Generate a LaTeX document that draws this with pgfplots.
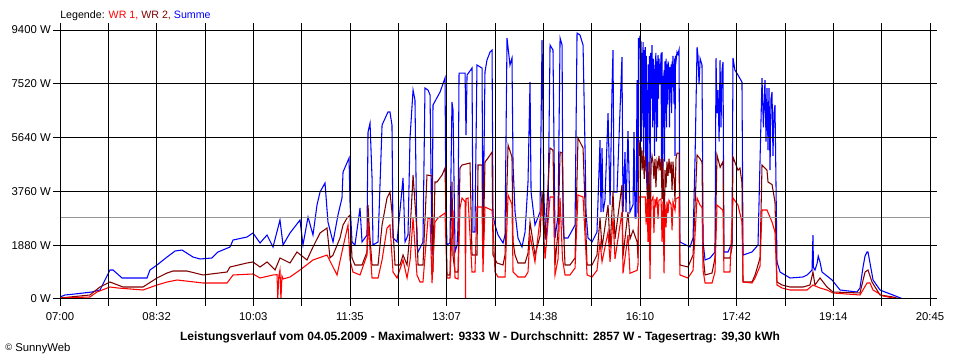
\documentclass[border=0pt]{standalone}
\usepackage{fontspec}
\setmainfont{Liberation Sans}
\usepackage{pgfplots}
\pgfplotsset{compat=1.18}
\definecolor{wrone}{RGB}{255,0,0}
\definecolor{wrtwo}{RGB}{128,0,0}
\definecolor{summe}{RGB}{0,0,255}
\definecolor{avgc}{RGB}{150,150,150}
\begin{document}
\begin{tikzpicture}
\path[use as bounding box] (0,0) rectangle (720pt,270pt);
\begin{axis}[
  at={(45pt,45.75pt)}, anchor=south west,
  scale only axis, width=652.5pt, height=201.75pt,
  xmin=420, xmax=1245, ymin=0, ymax=9400,
  axis on top,
  grid=major,
  major grid style={black, line width=0.75pt},
  axis line style={black, line width=0.75pt},
  xtick={420,465.83,511.67,557.5,603.33,649.17,695,740.83,786.67,832.5,878.33,924.17,970,1015.83,1061.67,1107.5,1153.33,1199.17,1245},
  xticklabels={07:00,,08:32,,10:03,,11:35,,13:07,,14:38,,16:10,,17:42,,19:14,,20:45},
  ytick={0,1880,3760,5640,7520,9400},
  yticklabels={0 W,1880 W,3760 W,5640 W,7520 W,9400 W},
  tick align=outside,
  major tick length=5.25pt,
  tick style={black, line width=0.75pt},
  ticklabel style={font=\fontsize{8.5}{10}\selectfont},
  every tick label/.append style={inner sep=1.5pt},
  xticklabel style={yshift=-3pt},
  clip=true,
]
\addplot[summe, line width=0.8pt] coordinates {
(420,70) (424.7,140) (434.2,175) (450.3,245) (457.9,314) (467.4,1013) (470.3,1013) (478.8,734) (502.5,734) (505.3,1013) (512.0,1188) (521.5,1467) (529.1,1677) (535.7,1712) (546.1,1467) (552.8,1398) (564.1,1433) (569.8,1642) (581.2,1817) (584.1,2061) (597.3,2166) (603.0,2306) (609.7,1957) (616.3,2236) (622.0,1817) (628.6,2760) (631.5,1887) (638.1,2306) (647.6,2760) (650.4,1887) (655.2,2865) (659.9,2236) (663.7,3284) (666.6,3739) (671.3,4053) (674.1,2690) (678.9,1992) (683.6,2935) (687.4,3529) (688.4,4437) (694.1,4927) (695.0,3389) (696.9,1992) (699.7,1887) (704.5,3180) (706.4,1992) (711.1,2236) (712.1,5835) (714.0,6149) (715.9,4228) (716.8,1887) (721.6,1992) (725.4,6080) (731.0,6534) (732.9,6534) (734.8,6080) (735.8,2131) (739.6,1992) (745.3,4228) (747.2,1992) (750.0,2236) (751.9,5625) (754.8,7302) (756.6,6953) (758.5,1887) (759.5,1642) (764.2,1992) (766.1,7372) (769.0,7302) (770.9,7128) (772.8,1537) (773.7,6778) (780.4,7233) (785.1,7722) (786.0,3040) (787.0,1887) (789.8,1957) (791.7,6883) (792.7,6604) (794.6,1642) (796.5,1887) (797.4,2481) (798.4,7896) (804.1,7896) (805.0,5730) (806.0,7827) (810.7,8071) (811.6,2341) (813.5,2341) (815.4,8176) (820.2,8071) (821.1,2131) (823.0,7931) (824.9,8351) (827.8,8630) (829.7,8700) (830.6,2935) (832.5,2586) (835.4,2236) (840.1,1957) (842.0,2236) (843.9,9119) (846.7,8176) (848.6,8421) (849.6,4682) (851.5,3040) (854.3,2131) (858.1,1817) (861.0,2341) (863.8,4088) (865.7,7582) (866.7,3739) (870.4,2586) (875.2,3040) (877.1,9050) (879.0,3459) (880.9,2061) (882.8,2935) (884.7,8875) (887.5,8700) (889.4,2131) (892.3,2935) (894.2,9119) (896.1,8875) (897.0,2586) (898.0,2131) (901.7,2131) (908.4,2586) (910.3,9294) (913.1,9224) (916.0,8875) (917.9,5206) (918.8,3040) (920.7,2131) (924.5,1992) (929.2,2341) (932.1,5555) (933.0,3040) (934.0,5276) (935.0,3040) (936.8,3459) (939.7,6499) (941.6,3284) (943.5,7400) (944.4,8700) (945.3,3739) (948.2,3739) (952.9,8455) (953.9,3040) (955.8,5136) (956.7,3040) (958.6,5870) (960.5,3040) (963.4,3300) (964.3,5835) (965.3,2830) (966.3,2830) (967.2,7652) (968.1,3000) (968.6,9119) (969.5,8900) (970.0,9200) (970.5,6000) (971.0,9000) (971.5,5500) (972.0,8600) (972.5,6500) (972.9,8980) (973.5,5000) (974.0,8700) (974.5,6000) (975.0,8800) (975.5,4500) (976.0,8500) (976.6,7000) (977.1,3040) (977.6,5835) (978.0,8200) (978.5,6500) (979.0,8500) (979.5,2830) (980.0,8600) (980.5,7000) (981.4,8875) (982.0,6000) (982.5,8400) (983.2,7800) (983.8,5000) (984.2,8000) (985.1,8600) (985.6,5500) (986.1,8300) (986.6,6000) (987.1,8526) (987.6,7000) (988.0,8400) (989.0,7500) (990.0,8600) (990.4,4500) (990.9,8630) (991.4,3500) (991.9,7800) (992.4,6000) (992.8,8000) (993.3,4800) (993.7,8300) (994.2,6500) (994.7,8400) (995.2,6000) (995.6,8200) (996.1,6800) (996.6,8300) (997.5,8000) (998.0,6000) (998.5,8100) (999.0,7200) (999.5,8200) (1000.0,6500) (1000.4,8300) (1001.0,7400) (1001.3,8500) (1002.3,6800) (1002.8,8400) (1003.2,5000) (1003.6,8500) (1004.1,8300) (1005.1,8630) (1006.0,8550) (1007.0,8700) (1007.9,1992) (1017.4,1817) (1020.3,2131) (1022.2,4927) (1024.1,8805) (1025.0,8500) (1026.0,7500) (1027.0,8400) (1028.8,8176) (1029.8,1992) (1031.7,1363) (1036.4,1433) (1041.1,1642) (1042.1,8421) (1043.0,6500) (1044.0,7302) (1045.0,5500) (1045.9,8351) (1046.8,6000) (1047.8,8000) (1048.7,8281) (1049.6,1642) (1053.4,1642) (1057.2,1957) (1058.2,8421) (1060.0,8000) (1062.9,7827) (1066.7,7582) (1067.7,1537) (1076.2,1642) (1081.9,1887) (1085.7,7722) (1087.0,6000) (1088.5,7652) (1089.5,5500) (1090.4,7372) (1091.4,5206) (1092.3,7372) (1093.3,4500) (1094.2,7000) (1095.2,7233) (1096.1,5000) (1097.0,6500) (1098.0,6778) (1099.9,1293) (1102.8,943) (1107.5,839) (1112.3,734) (1124.6,769) (1128.4,839) (1133.1,1013) (1134.0,2236) (1134.5,1100) (1135.9,1013) (1138.0,1250) (1139.0,1500) (1140.7,1293) (1142.6,943) (1152.1,664) (1159.7,314) (1175.8,245) (1178.6,384) (1181.5,1118) (1183.4,1500) (1185.3,1642) (1186.2,1642) (1188.1,1258) (1191.0,664) (1197.6,314) (1202.3,245) (1209.9,140) (1219.4,0)
};
\addplot[wrtwo, line width=0.8pt] coordinates {
(420,35) (448.4,140) (457.9,419) (467.4,594) (479.7,419) (498.7,419) (512.0,734) (521.5,908) (527.2,978) (540.4,978) (555.6,839) (578.4,943) (581.2,1118) (597.3,1258) (603.0,1293) (609.7,1118) (616.3,1293) (623.9,1013) (628.6,1433) (638.1,1258) (644.7,1642) (654.2,1363) (659.9,1817) (666.6,2306) (673.2,2481) (676.0,1433) (678.9,1537) (685.5,2131) (688.4,2586) (692.2,2830) (695.0,2935) (696.9,1433) (699.7,1188) (706.4,1188) (711.1,1642) (712.1,3284) (713.5,2341) (715.9,1188) (721.6,1188) (725.4,2586) (730.1,3529) (732.9,3739) (734.8,3040) (737.7,1188) (742.4,1188) (745.3,1537) (749.1,1188) (751.9,2341) (754.8,4333) (758.5,2341) (759.5,1188) (764.2,1188) (768.0,4333) (772.8,4300) (773.7,943) (775.6,4088) (777.5,4088) (782.3,4333) (785.1,4577) (787.0,839) (789.8,839) (791.7,4100) (792.7,1500) (794.6,943) (797.4,943) (799.3,4577) (801.2,4682) (808.8,4752) (810.7,1537) (815.4,1537) (816.4,4682) (820.2,4682) (821.1,1433) (823.0,4787) (825.9,4927) (829.7,5136) (830.6,1537) (834.4,1258) (840.1,1188) (842.0,1537) (844.9,5381) (848.6,4961) (849.6,2000) (851.5,1537) (854.3,1258) (861.0,1258) (863.8,1600) (865.7,2690) (870.4,1537) (875.2,2200) (877.1,3739) (880.0,2100) (884.7,5276) (887.5,5200) (889.4,1188) (892.3,2400) (894.2,5136) (896.1,5100) (898.0,2000) (898.9,1188) (903.6,1188) (908.4,1433) (911.2,5625) (916.0,5276) (919.8,1188) (924.5,1188) (929.2,1537) (932.1,2830) (934.0,1800) (939.7,3284) (941.6,1800) (944.4,3739) (946.3,2100) (952.9,3983) (953.9,1500) (958.6,3040) (960.5,2100) (963.4,2400) (967.2,2000) (968.1,1433) (969.1,5555) (970.0,5000) (971.0,5300) (972.0,4500) (972.9,5200) (974.0,4200) (974.8,5000) (975.8,4600) (976.6,3900) (977.6,3000) (978.5,4800) (979.5,1400) (980.5,4700) (981.4,5000) (982.3,4800) (983.2,4200) (984.2,4900) (985.1,3900) (986.1,4800) (987.1,4600) (988.0,5000) (989.0,4500) (990.0,4900) (990.9,3500) (991.8,4900) (992.8,1500) (993.7,4500) (994.7,3900) (995.6,4800) (996.6,4300) (997.5,4900) (998.5,4400) (999.5,4800) (1000.4,3800) (1001.3,4800) (1002.3,4200) (1003.2,3400) (1004.1,4900) (1005.1,5100) (1007.0,5100) (1007.9,1188) (1015.5,1118) (1020.3,1537) (1024.1,5031) (1026.9,4900) (1028.8,4787) (1029.8,1537) (1031.7,839) (1038.3,908) (1041.1,1433) (1043.0,5031) (1046.0,4600) (1048.7,4800) (1049.6,1433) (1055.3,1433) (1057.2,1800) (1058.2,4961) (1062.9,4500) (1064.8,4577) (1066.7,4053) (1067.7,594) (1076.2,594) (1079.1,839) (1083.8,1433) (1085.7,4682) (1090.4,4500) (1091.4,4088) (1095.2,4000) (1098.0,3389) (1099.9,594) (1104.7,489) (1112.3,419) (1124.6,419) (1131.2,489) (1134.0,943) (1135.9,489) (1140.7,734) (1147.3,419) (1153.0,245) (1178.6,210) (1183.4,943) (1186.2,1013) (1190.0,594) (1197.6,140) (1209.9,70) (1216.6,0)
};
\addplot[wrone, line width=0.8pt] coordinates {
(420,35) (448.4,70) (455.1,245) (467.4,419) (475.0,384) (498.7,314) (512.0,489) (521.5,594) (531.0,664) (555.6,559) (578.4,559) (584.1,839) (603.0,874) (609.7,734) (622.0,839) (625.8,850) (626.5,0) (627.5,800) (628.6,1013) (629.5,0) (630.5,800) (631.5,700) (638.1,769) (647.6,1013) (659.9,1363) (673.2,1537) (682.7,839) (688.4,1817) (693.1,2586) (695.0,1363) (697.8,943) (704.5,839) (711.1,1537) (712.1,2690) (715.9,734) (721.6,734) (725.4,1363) (730.1,2481) (732.9,2586) (735.8,943) (739.6,734) (745.3,1363) (749.1,734) (752.0,1363) (754.8,2830) (758.5,839) (761.4,594) (764.2,594) (769.0,2830) (770.9,2800) (772.8,559) (775.6,2690) (778.4,2830) (785.1,3005) (787.0,734) (789.8,734) (792.7,3100) (794.6,734) (797.4,700) (799.3,3180) (801.2,3529) (804.1,3400) (804.5,35) (805.0,3500) (806.9,3529) (810.7,943) (813.5,943) (815.4,3214) (820.2,3214) (821.1,943) (823.0,3214) (829.7,3100) (830.6,2600) (832.5,943) (835.4,769) (842.0,769) (844.9,3634) (848.6,3300) (849.6,943) (854.3,769) (861.0,769) (863.8,943) (865.7,2236) (870.4,1293) (877.1,3389) (880.0,1400) (884.7,3564) (888.0,3564) (889.4,839) (892.3,1400) (894.2,3529) (896.5,1400) (898.9,839) (903.6,839) (908.4,1083) (911.2,3634) (916.0,3564) (919.8,839) (924.5,769) (929.2,1000) (932.1,1992) (934.0,1300) (939.7,2341) (941.6,1300) (944.4,2830) (946.3,1400) (952.9,3040) (953.9,900) (958.6,2236) (960.5,900) (967.2,1000) (968.1,1188) (969.1,3564) (975.0,3564) (975.8,2600) (976.6,3500) (977.6,2000) (978.5,3500) (979.5,700) (980.5,3400) (982.3,3564) (983.2,2300) (984.2,3500) (985.1,3300) (986.1,3564) (987.1,2800) (988.0,3450) (990.0,3500) (990.9,2000) (991.8,3400) (992.8,900) (993.7,3300) (994.7,2500) (995.6,3400) (996.6,3000) (997.5,3450) (999.5,3300) (1000.4,2400) (1001.3,3400) (1003.2,3100) (1004.1,3500) (1007.0,3564) (1007.9,839) (1015.5,734) (1020.3,1000) (1024.1,3529) (1026.9,3284) (1028.8,3200) (1029.8,1000) (1031.7,559) (1038.3,559) (1041.1,943) (1043.0,3284) (1048.7,3100) (1049.6,943) (1055.3,943) (1058.2,3529) (1062.9,3284) (1066.7,2690) (1067.7,594) (1076.2,559) (1079.1,734) (1083.8,1150) (1085.7,3110) (1090.4,3110) (1095.2,2690) (1098.0,2341) (1099.9,489) (1104.7,384) (1112.3,314) (1128.4,314) (1134.0,489) (1140.7,384) (1147.3,314) (1153.0,210) (1178.6,140) (1185.3,559) (1188.1,559) (1191.0,314) (1200.5,105) (1209.9,35) (1216.6,0)
};
\addplot[avgc, line width=0.75pt] coordinates {(420,2857) (1245,2857)};
\end{axis}
\node[anchor=west, inner sep=0pt, font=\fontsize{8}{10}\selectfont] at (45pt,258pt) {Legende: \textcolor{wrone}{WR 1,} \textcolor{wrtwo}{WR 2,} \textcolor{summe}{Summe}};
\node[inner sep=0pt, font=\fontsize{9}{10}\selectfont\bfseries] at (360pt,17.25pt) {Leistungsverlauf vom 04.05.2009 - Maximalwert: 9333 W - Durchschnitt: 2857 W - Tagesertrag: 39,30 kWh};
\node[anchor=west, inner sep=0pt, font=\fontsize{8.5}{10}\selectfont] at (3.75pt,8.25pt) {\raisebox{0.3ex}{\scriptsize\textcopyright} SunnyWeb};
\end{tikzpicture}
\end{document}
